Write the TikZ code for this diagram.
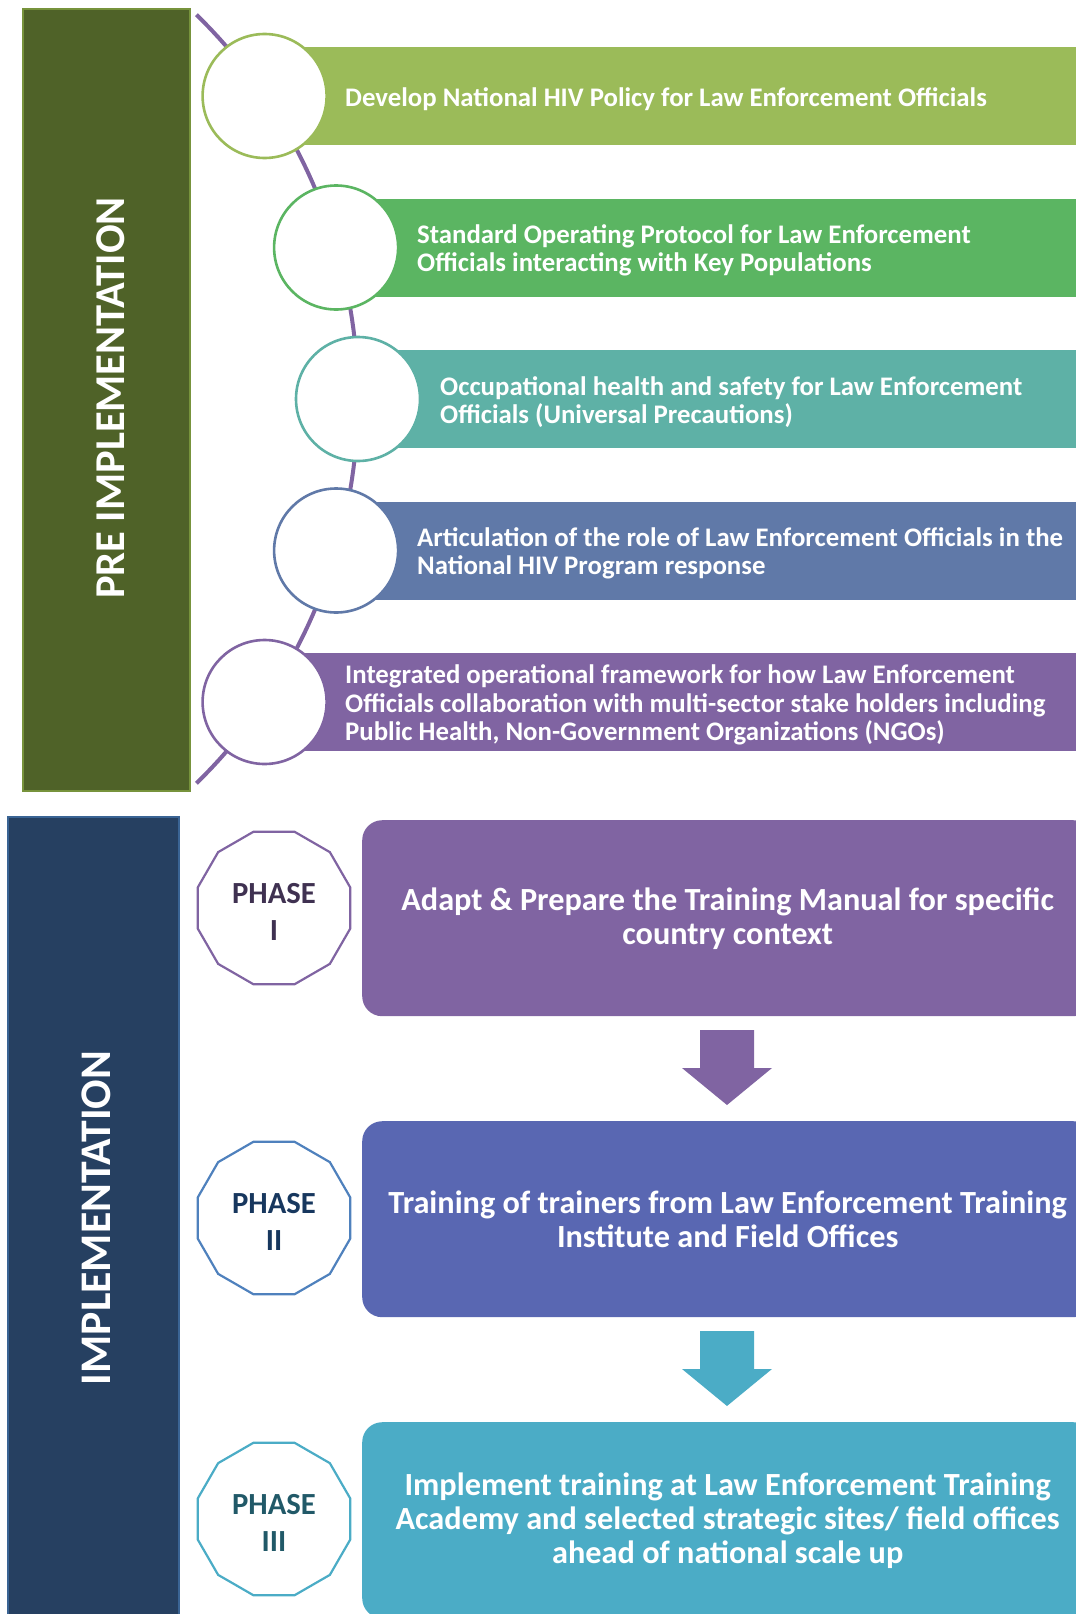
\documentclass[tikz,border=0pt]{standalone}
\usepackage{fontspec}
\setmainfont{Carlito}
\usetikzlibrary{shapes.geometric}
\definecolor{cA}{HTML}{9BBB59}
\definecolor{cB}{HTML}{5BB562}
\definecolor{cC}{HTML}{5EB1A6}
\definecolor{cD}{HTML}{6079A8}
\definecolor{cE}{HTML}{8064A2}
\definecolor{preFill}{HTML}{4F6228}
\definecolor{preLine}{HTML}{77933C}
\definecolor{impFill}{HTML}{264061}
\definecolor{impLine}{HTML}{3A6494}
\definecolor{boxB}{HTML}{5967B2}
\definecolor{boxC}{HTML}{4BACC6}
\definecolor{phBorderB}{HTML}{4F81BD}
\definecolor{phTextA}{HTML}{3F3151}
\definecolor{phTextB}{HTML}{17375E}
\definecolor{phTextC}{HTML}{215968}
\begin{document}
\begin{tikzpicture}[x=1pt,y=-1pt,
  sidebar/.style={draw, line width=2pt, anchor=north west, inner sep=0pt},
  sidelabel/.style={rotate=90, text=white, inner sep=0pt},
  stripe/.style={minimum width=840pt, minimum height=98pt, anchor=west, inner sep=0pt, draw=none},
  stripetext/.style={anchor=west, align=left, text=white, inner sep=0pt, font=\fontsize{26.8}{28.5}\selectfont\bfseries},
  ring/.style={circle, fill=white, line width=2.6pt, minimum size=124pt, inner sep=0pt},
  phasebox/.style={rounded corners=20pt, minimum width=731pt, minimum height=196pt, anchor=north west, inner sep=0pt, align=center, text=white, font=\fontsize{32.3}{34}\selectfont\bfseries},
  phasegon/.style={regular polygon, regular polygon sides=12, minimum size=158pt, fill=white, line width=2.2pt, inner sep=0pt},
  phasetext/.style={inner sep=0pt, align=center, font=\fontsize{30.7}{37}\selectfont\bfseries}
]
\clip (0,0) rectangle (1076,1614);
\useasboundingbox (0,0) rectangle (1076,1614);

% side bars
\node[sidebar, fill=preFill, draw=preLine, minimum width=167pt, minimum height=782pt] (pre) at (22,8) {};
\node[sidelabel, font=\fontsize{42.5}{48}\selectfont\bfseries] (prelbl) at (111,398) {PRE IMPLEMENTATION};
\node[sidebar, fill=impFill, draw=impLine, minimum width=171pt, minimum height=820pt] (imp) at (7,816) {};
\node[sidelabel, font=\fontsize{43.7}{48}\selectfont\bfseries] (implbl) at (96,1218) {IMPLEMENTATION};

% stripes
\node[stripe, fill=cA] (s1) at (264.6,96) {};
\node[stripe, fill=cB] (s2) at (336.1,247.5) {};
\node[stripe, fill=cC] (s3) at (358,399) {};
\node[stripe, fill=cD] (s4) at (336.1,550.5) {};
\node[stripe, fill=cE] (s5) at (264.6,702) {};

% arc through the rings
\draw[cE, line width=4pt] plot[domain=-45.6:45.6, samples=80] ({-180+538*cos(\x)}, {399+538*sin(\x)});

% rings
\node[ring, draw=cA] (r1) at (264.6,96) {};
\node[ring, draw=cB] (r2) at (336.1,247.5) {};
\node[ring, draw=cC] (r3) at (358,399) {};
\node[ring, draw=cD] (r4) at (336.1,550.5) {};
\node[ring, draw=cE] (r5) at (264.6,702) {};

% stripe texts
\node[stripetext] (t1) at (345,99) {Develop National HIV Policy for Law Enforcement Officials};
\node[stripetext] (t2) at (417,250.5) {Standard Operating Protocol for Law Enforcement\\Officials interacting with Key Populations};
\node[stripetext] (t3) at (440,402) {Occupational health and safety for Law Enforcement\\Officials (Universal Precautions)};
\node[stripetext] (t4) at (417,553.5) {Articulation of the role of Law Enforcement Officials in the\\National HIV Program response};
\node[stripetext] (t5) at (345,705) {Integrated operational framework for how Law Enforcement\\Officials collaboration with multi-sector stake holders including\\Public Health, Non-Government Organizations (NGOs)};

% phase boxes
\node[phasebox, fill=cE] (p1) at (362,820) {Adapt \& Prepare the Training Manual for specific\\country context};
\node[phasebox, fill=boxB] (p2) at (362,1121) {Training of trainers from Law Enforcement Training\\Institute and Field Offices};
\node[phasebox, fill=boxC] (p3) at (362,1422) {Implement training at Law Enforcement Training\\Academy and selected strategic sites/ field offices\\ahead of national scale up};

% phase polygons
\node[phasegon, draw=cE] (g1) at (274,908) {};
\node[phasetext, text=phTextA] (g1t) at (274,912) {PHASE\\I};
\node[phasegon, draw=phBorderB] (g2) at (274,1218) {};
\node[phasetext, text=phTextB] (g2t) at (274,1221.5) {PHASE\\II};
\node[phasegon, draw=boxC] (g3) at (274,1519) {};
\node[phasetext, text=phTextC] (g3t) at (274,1522.5) {PHASE\\III};

% block arrows
\fill[cE] (700,1030) -- (754,1030) -- (754,1068) -- (772,1068) -- (727,1105) -- (682,1068) -- (700,1068) -- cycle;
\fill[boxC] (700,1331) -- (754,1331) -- (754,1369) -- (772,1369) -- (727,1406) -- (682,1369) -- (700,1369) -- cycle;
\end{tikzpicture}
\end{document}
